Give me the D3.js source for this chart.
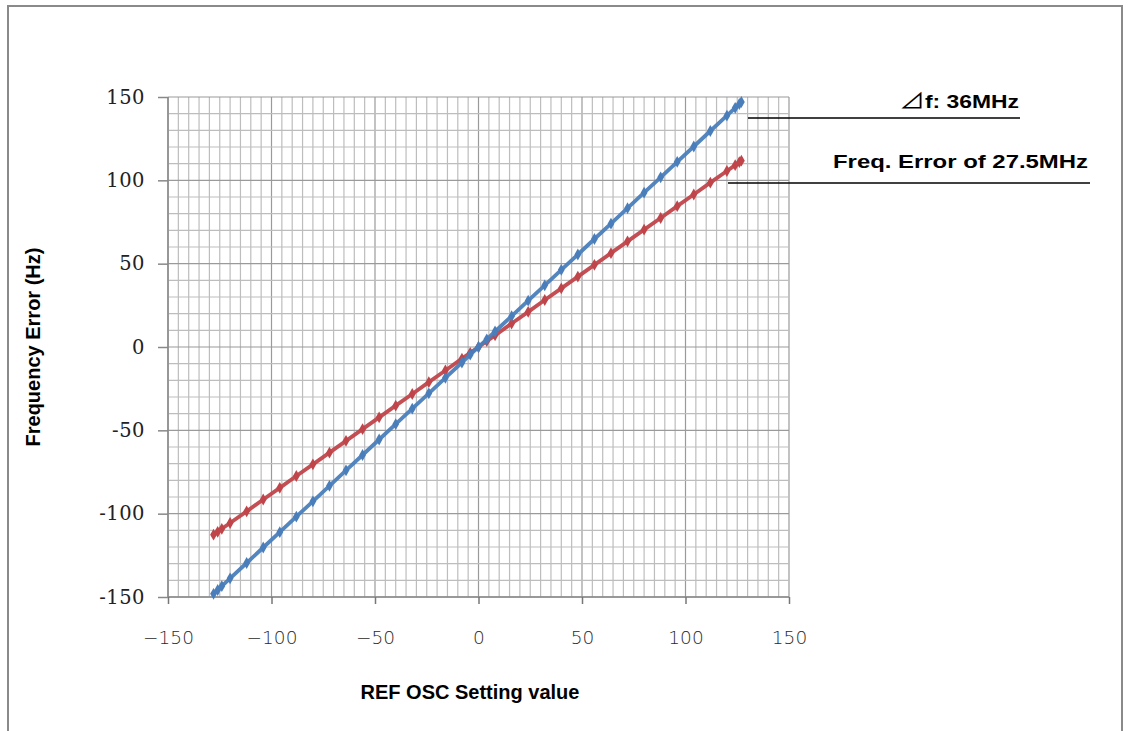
<!DOCTYPE html>
<html><head><meta charset="utf-8">
<script src="https://cdn.jsdelivr.net/npm/d3@7"></script>
<style>body{margin:0;background:#fff}svg{display:block}</style>
</head><body>
<svg id="c" width="1133" height="731"></svg>
<script>
const settingValues = [-128,-126,-124,-120,-112,-104,-96,-88,-80,-72,-64,-56,-48,-40,-32,-24,-16,-8,-4,0,4,8,16,24,32,40,48,56,64,72,80,88,96,104,112,120,124,126,127];
const errorDelta36 = [-148.1,-145.8,-143.5,-138.8,-129.6,-120.3,-111.1,-101.8,-92.6,-83.3,-74.0,-64.8,-55.5,-46.3,-37.0,-27.8,-18.5,-9.3,-4.6,0,4.6,9.3,18.5,27.8,37.0,46.3,55.5,64.8,74.0,83.3,92.6,101.8,111.1,120.3,129.6,138.8,143.5,145.8,147.0];
const error27_5 = [-112.6,-110.9,-109.1,-105.6,-98.6,-91.5,-84.5,-77.4,-70.4,-63.4,-56.3,-49.3,-42.2,-35.2,-28.2,-21.1,-14.1,-7.0,-3.5,0,3.5,7.0,14.1,21.1,28.2,35.2,42.2,49.3,56.3,63.4,70.4,77.4,84.5,91.5,98.6,105.6,109.1,110.9,111.8];
const xTickValues = [-150,-100,-50,0,50,100,150];
const yTickValues = [-150,-100,-50,0,50,100,150];
const seriesLabels = ["\u22BF", "f: 36MHz","Freq. Error of 27.5MHz"];
const xTitle = "REF OSC Setting value";
const yTitle = "Frequency Error (Hz)";

const svg = d3.select("#c");
const L=168, R=789, T=97, B=597;
const x = d3.scaleLinear().domain([-150,150]).range([L,R]);
const y = d3.scaleLinear().domain([-150,150]).range([B,T]);

// outer frame
svg.append("rect").attr("x",8).attr("y",6).attr("width",1114).attr("height",760)
  .attr("fill","none").attr("stroke","#8a8a8a").attr("stroke-width",2);

// grid
const g = svg.append("g");
const vMinor = d3.range(-150,151,5);
const hMinor = d3.range(-150,151,10);
g.selectAll("line.v").data(vMinor).join("line")
  .attr("x1",d=>x(d)).attr("x2",d=>x(d)).attr("y1",T).attr("y2",B)
  .attr("stroke",d=>d%50===0?"#9a9a9a":"#bdbdbd").attr("stroke-width",1.2);
g.selectAll("line.h").data(hMinor).join("line")
  .attr("x1",L).attr("x2",R).attr("y1",d=>y(d)).attr("y2",d=>y(d))
  .attr("stroke",d=>d%50===0?"#9a9a9a":"#bdbdbd").attr("stroke-width",1.2);
g.append("line").attr("x1",L).attr("x2",L).attr("y1",T).attr("y2",B).attr("stroke","#888").attr("stroke-width",1.5);
g.append("line").attr("x1",L).attr("x2",R).attr("y1",B).attr("y2",B).attr("stroke","#888").attr("stroke-width",1.5);

// axes
const xAxis = svg.append("g").attr("transform",`translate(0,${B})`)
  .call(d3.axisBottom(x).tickValues(xTickValues).tickSize(7).tickFormat(d=>d<0?"\u2212"+Math.abs(d):d));
xAxis.select(".domain").remove();
xAxis.selectAll("line").attr("stroke","#777").attr("stroke-width",1.5);
xAxis.selectAll("text").attr("y",0).attr("dy",0).attr("transform","translate(0,47)")
  .attr("font-family","'DejaVu Sans', sans-serif").attr("font-size",18.5).attr("fill","#2a2a2a").attr("font-weight",200);

const yAxis = svg.append("g").attr("transform",`translate(${L},0)`)
  .call(d3.axisLeft(y).tickValues(yTickValues).tickSize(10).tickFormat(d=>d));
yAxis.select(".domain").remove();
yAxis.selectAll("line").attr("stroke","#888").attr("stroke-width",1.5);
yAxis.selectAll("text").attr("x",-23).attr("font-family","'DejaVu Serif', serif").attr("font-size",19.5).attr("letter-spacing","0.5px").attr("fill","#222");

// series
const line = d3.line().x(d=>x(d[0])).y(d=>y(d[1]));
const s1 = settingValues.map((v,i)=>[v,errorDelta36[i]]);
const s2 = settingValues.map((v,i)=>[v,error27_5[i]]);
const colors = ["#4a7ebb","#c0454a"];
[s2,s1].forEach((s,k)=>{
  const c = k===0?colors[1]:colors[0];
  svg.append("path").datum(s).attr("d",line).attr("fill","none").attr("stroke",c).attr("stroke-width",3.8).attr("opacity",0.95);
  svg.append("g").selectAll("path").data(s).join("path")
    .attr("d",d3.symbol(d3.symbolDiamond,40))
    .attr("transform",d=>`translate(${x(d[0])},${y(d[1])})`)
    .attr("fill",c);
});

// annotations
const a1 = svg.append("text").attr("x",899).attr("y",108)
  .attr("font-family","'Liberation Sans', Arial, sans-serif").attr("font-weight","bold").attr("font-size",18.5)
  .attr("textLength",120).attr("lengthAdjust","spacingAndGlyphs");
a1.append("tspan").attr("font-family","'Noto Sans CJK JP', sans-serif").attr("font-weight","normal").attr("font-size",21).text(seriesLabels[0]);
a1.append("tspan").text(seriesLabels[1]);
svg.append("line").attr("x1",748).attr("x2",1020).attr("y1",118).attr("y2",118).attr("stroke","#000").attr("stroke-width",1.6);
svg.append("text").attr("x",833).attr("y",168)
  .attr("font-family","'Liberation Sans', Arial, sans-serif").attr("font-weight","bold").attr("font-size",18.5)
  .attr("textLength",255).attr("lengthAdjust","spacingAndGlyphs").text(seriesLabels[2]);
svg.append("line").attr("x1",728).attr("x2",1090).attr("y1",183).attr("y2",183).attr("stroke","#000").attr("stroke-width",1.6);

// titles
svg.append("text").attr("x",470).attr("y",699).attr("text-anchor","middle")
  .attr("font-family","'Liberation Sans', Arial, sans-serif").attr("font-weight","bold").attr("font-size",20).text(xTitle);
svg.append("text").attr("transform","translate(40,347) rotate(-90)").attr("text-anchor","middle")
  .attr("font-family","'Liberation Sans', Arial, sans-serif").attr("font-weight","bold").attr("font-size",20).text(yTitle);
</script>
</body></html>
